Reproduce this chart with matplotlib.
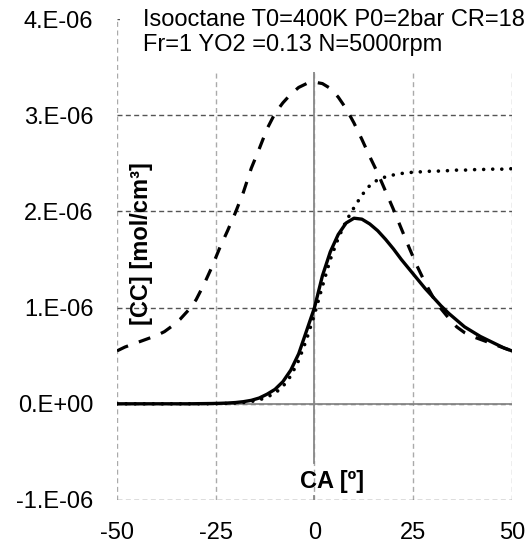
import matplotlib
matplotlib.use("Agg")
import matplotlib.pyplot as plt
from matplotlib.patches import Rectangle

plt.rcParams['font.family'] = ['Liberation Sans', 'DejaVu Sans']

# ---- data (values in 1e-6 mol/cm3) ----
ca = [-50, -48, -46, -44, -42, -40, -38, -36, -34, -32, -30, -28, -26, -24, -22, -20,
      -18, -16, -14, -12, -10, -8, -6, -4, -2, 0, 2, 4, 6, 8, 10, 12, 14, 16, 18, 20,
      22, 24, 26, 28, 30, 32, 34, 36, 38, 40, 42, 44, 46, 48, 50]

solid = [0, 0, 0, 0, 0, 0, 0, 0, 0, 0, 0.001, 0.002, 0.003, 0.005, 0.008, 0.013,
         0.022, 0.036, 0.06, 0.10, 0.15, 0.23, 0.35, 0.52, 0.76, 1.00, 1.33, 1.58, 1.76, 1.88, 1.93,
         1.92, 1.87, 1.80, 1.71, 1.61, 1.50, 1.40, 1.30, 1.20, 1.11, 1.02, 0.94, 0.87, 0.80, 0.75,
         0.70, 0.66, 0.62, 0.58, 0.55]

dotted = [0, 0, 0, 0, 0, 0, 0, 0, 0, 0, 0, 0, 0, 0.002, 0.004, 0.008,
          0.014, 0.024, 0.04, 0.07, 0.11, 0.18, 0.29, 0.45, 0.67, 0.93, 1.22, 1.50, 1.72, 1.90, 2.04,
          2.17, 2.27, 2.33, 2.36, 2.38, 2.395, 2.405, 2.41, 2.415, 2.42, 2.42, 2.425, 2.43, 2.43, 2.435,
          2.435, 2.44, 2.44, 2.44, 2.445]

dashed = [0.55, 0.59, 0.62, 0.65, 0.68, 0.71, 0.75, 0.81, 0.88, 0.97, 1.08, 1.24, 1.42, 1.62, 1.80, 1.99,
          2.20, 2.45, 2.65, 2.86, 3.02, 3.13, 3.22, 3.29, 3.33, 3.345, 3.33, 3.28, 3.19, 3.07, 2.92,
          2.75, 2.57, 2.40, 2.21, 2.02, 1.82, 1.62, 1.43, 1.26, 1.11, 0.99, 0.89, 0.80, 0.74, 0.70,
          0.67, 0.64, 0.61, 0.58, 0.55]

scale = 1e-6
xticks = [-50, -25, 0, 25, 50]
yticks = [-1e-6, 0, 1e-6, 2e-6, 3e-6, 4e-6]
ytick_labels = ["-1.E-06", "0.E+00", "1.E-06", "2.E-06", "3.E-06", "4.E-06"]
info_text = "Isooctane T0=400K P0=2bar CR=18\nFr=1 YO2 =0.13 N=5000rpm"
xlabel = "CA [º]"
ylabel = "[CC] [mol/cm³]"

fig = plt.figure(figsize=(5.27, 5.47), dpi=100)
ax = fig.add_axes([0.222, 0.086, 0.7495, 0.879])
ax.set_xlim(-50, 50)
ax.set_ylim(-1e-6, 4e-6)

for s in ax.spines.values():
    s.set_visible(False)

ax.set_xticks(xticks)
ax.set_xticklabels([str(t) for t in xticks])
ax.set_yticks(yticks)
ax.set_yticklabels(ytick_labels)
ax.tick_params(length=0, labelsize=17, pad=16)
ax.tick_params(axis='y', pad=17)

# grid
ax.grid(axis='y', color='#555555', linewidth=1.0, linestyle=(0, (3.6, 2.4)), zorder=0.5)
ax.grid(axis='x', color='#aaaaaa', linewidth=1.0, linestyle=(0, (3.6, 2.6)), zorder=0.5)
ax.set_axisbelow(True)

# zero axes lines
ax.axhline(0, color='#888888', linewidth=1.3, zorder=1.5)
ax.axvline(0, ymin=0.077, ymax=1.0, color='#888888', linewidth=1.3, zorder=1.5)
ax.axvline(0, ymin=0.0, ymax=0.008, color='#888888', linewidth=1.3, zorder=1.5)

ys = [v * scale for v in solid]
yd = [v * scale for v in dotted]
yda = [v * scale for v in dashed]

ax.plot(ca, yda, color='black', linewidth=2.3, linestyle=(0, (3.8, 3.6)),
        dash_capstyle='butt', zorder=3)
ax.plot(ca, yd, color='black', linewidth=2.6, linestyle=(0, (0.01, 2.5)),
        dash_capstyle='round', zorder=3)
ax.plot(ca, ys, color='black', linewidth=2.4, zorder=3.2)

# white box behind annotation text
ax.add_patch(Rectangle((0.008, 0.89), 1.2, 0.3, transform=ax.transAxes,
                       facecolor='white', edgecolor='none', zorder=2.5, clip_on=False))
ax.text(0.067, 1.022, info_text, transform=ax.transAxes, fontsize=17,
        va='top', ha='left', linespacing=1.22, zorder=4)

ax.text(0.063, 0.534, ylabel, transform=ax.transAxes, fontsize=17, fontweight='bold',
        rotation=90, va='center', ha='center', zorder=4)
ax.text(4.4, -0.81e-6, xlabel, fontsize=17, fontweight='bold', va='center', ha='center',
        zorder=4)

fig.savefig("out.png", dpi=100)
